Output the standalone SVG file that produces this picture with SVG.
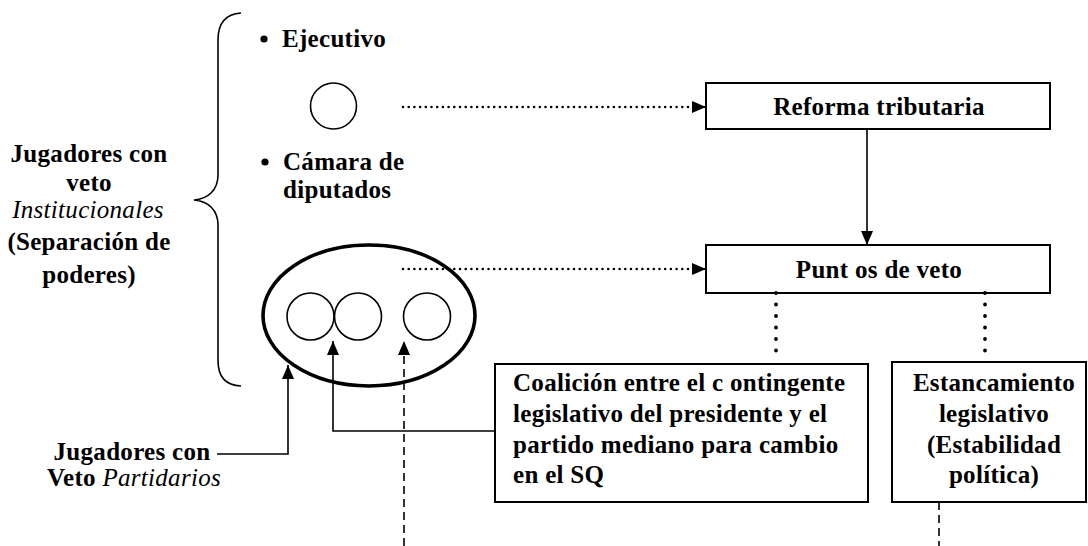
<svg xmlns="http://www.w3.org/2000/svg" width="1088" height="546" viewBox="0 0 1088 546">
<style>
.t{font-family:"Liberation Serif","Times New Roman",serif;font-weight:bold;font-size:25px;letter-spacing:0.3px;fill:#000}
.i{font-style:italic;font-weight:normal}
.box{fill:#fff;stroke:#000;stroke-width:2}
.ln{fill:none;stroke:#000;stroke-width:1.6}
.dot{fill:none;stroke:#000;stroke-width:2.6;stroke-linecap:round;stroke-dasharray:0 5.7}
.vdot{fill:none;stroke:#000;stroke-width:3.8;stroke-linecap:round;stroke-dasharray:0 11.5}
.dash{fill:none;stroke:#000;stroke-width:1.6;stroke-dasharray:8 5}
.c{fill:none;stroke:#000;stroke-width:1.6}
</style>
<defs>
<marker id="ah" markerUnits="userSpaceOnUse" markerWidth="14" markerHeight="12" refX="14" refY="6" orient="auto">
<path d="M0,0 L14,6 L0,12 z" fill="#000"/>
</marker>
</defs>
<rect width="1088" height="546" fill="#fff"/>

<g id="brace">
<path class="ln" d="M241,13 C226,14 218,22 218,40 L218,175 C218,190 208,199 194,200 C208,201 218,210 218,225 L218,360 C218,378 226,385 241,386"/>
</g>

<g id="label-institucionales">
<text class="t" text-anchor="middle" x="89" y="162">Jugadores con</text>
<text class="t" text-anchor="middle" x="89" y="191">veto</text>
<text class="t i" text-anchor="middle" x="88" y="218">Institucionales</text>
<text class="t" text-anchor="middle" x="89" y="250">(Separación de</text>
<text class="t" text-anchor="middle" x="89" y="283">poderes)</text>
</g>

<g id="ejecutivo">
<circle cx="264" cy="39" r="3.6" fill="#000"/>
<text class="t" x="282" y="47">Ejecutivo</text>
<circle class="c" cx="333.5" cy="106" r="23"/>
</g>

<g id="camara">
<circle cx="265" cy="162" r="3.6" fill="#000"/>
<text class="t" x="283" y="170">Cámara de</text>
<text class="t" x="283" y="198">diputados</text>
<ellipse cx="369" cy="315.5" rx="106" ry="70.5" fill="none" stroke="#000" stroke-width="3.6"/>
<circle class="c" cx="310.5" cy="316.5" r="23.5"/>
<circle class="c" cx="358" cy="316.5" r="23.5"/>
<circle class="c" cx="427" cy="316.5" r="23.5"/>
</g>

<g id="label-partidarios">
<text class="t" text-anchor="middle" x="132" y="460">Jugadores con</text>
<text class="t" text-anchor="middle" x="134" y="486">Veto <tspan class="i">Partidarios</tspan></text>
</g>

<g id="reforma">
<rect class="box" x="706" y="83" width="344" height="46"/>
<text class="t" text-anchor="middle" x="879" y="115">Reforma tributaria</text>
</g>

<g id="puntos">
<rect class="box" x="706" y="245" width="344" height="48"/>
<text class="t" text-anchor="middle" x="879" y="278">Punt os de veto</text>
</g>

<g id="coalicion">
<rect class="box" x="495" y="364" width="373" height="138"/>
<text class="t" x="513" y="391">Coalición entre el c ontingente</text>
<text class="t" x="513" y="422">legislativo del presidente y el</text>
<text class="t" x="513" y="453">partido mediano para cambio</text>
<text class="t" x="513" y="483">en el SQ</text>
</g>

<g id="estancamiento">
<rect class="box" x="892" y="362" width="194" height="140"/>
<text class="t" text-anchor="middle" x="994" y="391">Estancamiento</text>
<text class="t" text-anchor="middle" x="994" y="422">legislativo</text>
<text class="t" text-anchor="middle" x="994" y="453">(Estabilidad</text>
<text class="t" text-anchor="middle" x="994" y="483">política)</text>
</g>

<g id="connectors">
<line class="dot" x1="403" y1="107" x2="698" y2="107"/>
<line class="ln" x1="698" y1="107" x2="706" y2="107" marker-end="url(#ah)"/>
<line class="dot" x1="403" y1="269" x2="698" y2="269"/>
<line class="ln" x1="698" y1="269" x2="706" y2="269" marker-end="url(#ah)"/>
<line class="ln" x1="867" y1="129" x2="867" y2="245" marker-end="url(#ah)"/>
<line class="vdot" x1="776" y1="293" x2="776" y2="351"/>
<line class="vdot" x1="985" y1="293" x2="985" y2="351"/>
<polyline class="ln" points="217,454 288,454 288,365" marker-end="url(#ah)"/>
<polyline class="ln" points="495,431 333,431 333,341" marker-end="url(#ah)"/>
<line class="dash" x1="404" y1="546" x2="404" y2="341" marker-end="url(#ah)"/>
<line class="dash" x1="939" y1="502" x2="939" y2="546"/>
</g>
</svg>
